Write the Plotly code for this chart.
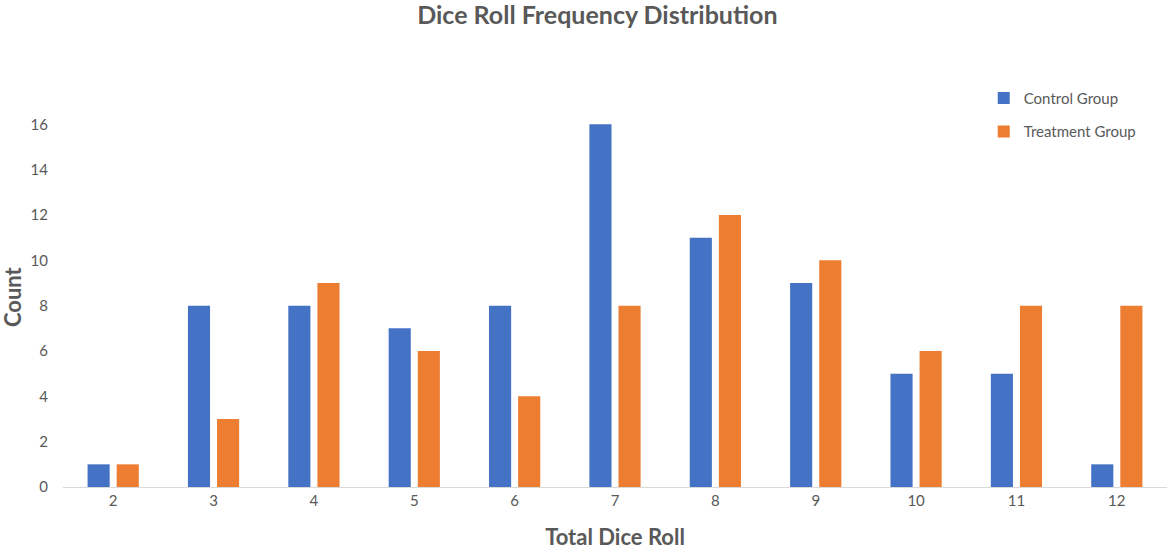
import plotly.graph_objects as go

# Dice totals and counts per group
rolls = ["2", "3", "4", "5", "6", "7", "8", "9", "10", "11", "12"]
control_counts = [1, 8, 8, 7, 8, 16, 11, 9, 5, 5, 1]
treatment_counts = [1, 3, 9, 6, 4, 8, 12, 10, 6, 8, 8]
y_ticks = [0, 2, 4, 6, 8, 10, 12, 14, 16]

FONT = "Lato, 'Open Sans', sans-serif"
GRAY = "#595959"

fig = go.Figure()
fig.add_trace(go.Bar(
    x=rolls, y=control_counts, name="Control Group",
    marker=dict(color="#4472C4", line=dict(width=0)),
    legendgroup="control",
))
fig.add_trace(go.Bar(
    x=rolls, y=treatment_counts, name="Treatment Group",
    marker=dict(color="#ED7D31", line=dict(width=0)),
    legendgroup="treatment",
))

# Vertical axis title, placed slightly below the plot's middle
fig.add_annotation(
    text="<b>Count</b>", textangle=-90,
    xref="paper", yref="paper", x=-0.0462, y=0.468,
    xanchor="center", yanchor="middle", showarrow=False,
    font=dict(family=FONT, size=22, color=GRAY),
)

fig.update_layout(
    width=1169, height=550,
    margin=dict(l=63, r=2, t=79, b=63),
    paper_bgcolor="white", plot_bgcolor="white",
    barmode="group", bargap=0.42, bargroupgap=0.24,
    font=dict(family=FONT, color=GRAY, size=15),
    title=dict(
        text="<b>Dice Roll Frequency Distribution</b>",
        x=0.511, xanchor="center", y=0.972, yanchor="middle",
        font=dict(family=FONT, size=25, color=GRAY),
    ),
    showlegend=True,
    legend=dict(
        x=0.834, y=0.993, xanchor="left", yanchor="top",
        traceorder="grouped", tracegroupgap=11,
        font=dict(family=FONT, size=15, color=GRAY),
        bgcolor="rgba(0,0,0,0)",
    ),
    xaxis=dict(
        type="category",
        showline=True, linecolor="#D9D9D9", linewidth=1,
        showgrid=False, ticks="", zeroline=False,
        tickfont=dict(size=15, color=GRAY),
        title=dict(text="<b>Total Dice Roll</b>", standoff=21,
                   font=dict(size=22, color=GRAY)),
    ),
    yaxis=dict(
        range=[0, 18], tickvals=y_ticks,
        showline=False, showgrid=False, zeroline=False, ticks="",
        ticklabelstandoff=14,
        tickfont=dict(size=15, color=GRAY),
    ),
)

fig.write_html("out.html")
